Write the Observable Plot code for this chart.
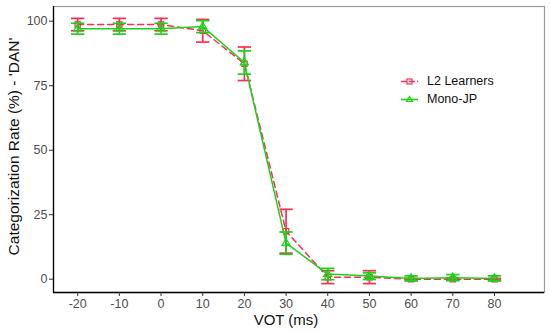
<!DOCTYPE html>
<html>
<head>
<meta charset="utf-8">
<script src="https://cdn.jsdelivr.net/npm/d3@7"></script>
<script src="https://cdn.jsdelivr.net/npm/@observablehq/plot@0.6"></script>
<style>
  body { margin: 0; background: #fff; }
  #wrap { position: relative; width: 550px; height: 333px; font-family: "Liberation Sans", Arial, sans-serif; }
  .leg { position: absolute; left: 400px; font-size: 12.5px; color: #111; }
  .leg .row { position: relative; height: 18px; display: flex; align-items: center; }
  .leg svg { margin-right: 8px; }
</style>
</head>
<body>
<div id="wrap"></div>
<script>
const vot = [-20, -10, 0, 10, 20, 30, 40, 50, 60, 70, 80];
const seriesNames = ["L2 Learners", "Mono-JP"];
const l2Mean = [98.7, 98.7, 98.7, 96.3, 83.5, 18.6, 0.8, 0.8, 0, 0, 0];
const l2Err  = [2.4, 2.4, 2.4, 4.4, 6.5, 8.5, 2.5, 2.5, 0.3, 0.3, 0.3];
const monoMean = [97.1, 97.1, 97.1, 97.9, 84, 14, 2, 1.2, 0.3, 0.6, 0.3];
const monoErr  = [2.1, 2.1, 2.1, 2.3, 4.5, 4.3, 2.2, 1.3, 1, 1.2, 1];
const xTicks = [-20, -10, 0, 10, 20, 30, 40, 50, 60, 70, 80];
const yTicks = [0, 25, 50, 75, 100];
const colors = ["#ff2d52", "#18d418"];

const l2 = vot.map((x, i) => ({x, y: l2Mean[i], lo: l2Mean[i] - l2Err[i], hi: l2Mean[i] + l2Err[i]}));
const mono = vot.map((x, i) => ({x, y: monoMean[i], lo: monoMean[i] - monoErr[i], hi: monoMean[i] + monoErr[i]}));
const capHalf = 1.6;
const xDom = [-25.8, 92];
const yDom = [-5.15, 105.7];

function errMarks(data, color) {
  return [
    Plot.ruleX(data, {x: "x", y1: "lo", y2: "hi", stroke: color, strokeWidth: 1.7}),
    Plot.link(data, {x1: d => d.x - capHalf, x2: d => d.x + capHalf, y1: "lo", y2: "lo", stroke: color, strokeWidth: 1.7}),
    Plot.link(data, {x1: d => d.x - capHalf, x2: d => d.x + capHalf, y1: "hi", y2: "hi", stroke: color, strokeWidth: 1.7})
  ];
}

const chart = Plot.plot({
  width: 550,
  height: 333,
  marginLeft: 53,
  marginRight: 6,
  marginTop: 6,
  marginBottom: 41,
  style: {fontFamily: "'Liberation Sans', Arial, sans-serif", background: "#fff"},
  x: {domain: xDom, ticks: xTicks},
  y: {domain: yDom, ticks: yTicks},
  marks: [
    Plot.frame({stroke: "#9a9a9a", strokeWidth: 1.2}),
    Plot.ruleX([xDom[0]], {stroke: "#000", strokeWidth: 1.3}),
    Plot.ruleY([yDom[0]], {stroke: "#000", strokeWidth: 1.3}),
    Plot.axisX({ticks: xTicks, tickSize: 4, tickPadding: 3, fontSize: 12.5, color: "#4d4d4d", stroke: "#333", label: null, tickFormat: d => String(d)}),
    Plot.axisY({ticks: yTicks, tickSize: 4, tickPadding: 2, fontSize: 12.5, color: "#4d4d4d", stroke: "#333", label: null}),
    ...errMarks(l2, colors[0]),
    Plot.line(l2, {x: "x", y: "y", stroke: colors[0], strokeWidth: 1.5, strokeDasharray: "6,4"}),
    Plot.dot(l2, {x: "x", y: "y", symbol: "square", r: 3, stroke: colors[0], fill: "none", strokeWidth: 1.2}),
    ...errMarks(mono, colors[1]),
    Plot.line(mono, {x: "x", y: "y", stroke: colors[1], strokeWidth: 1.5}),
    Plot.dot(mono, {x: "x", y: "y", symbol: "triangle", r: 3, stroke: colors[1], fill: "none", strokeWidth: 1.2}),
    Plot.text(["Categorization Rate (%) - 'DAN'"], {frameAnchor: "left", textAnchor: "middle", lineAnchor: "middle", rotate: -90, dx: -39, dy: -3, fontSize: 15.5, fill: "#111"}),
    Plot.text(["VOT (ms)"], {frameAnchor: "bottom", textAnchor: "middle", lineAnchor: "middle", dy: 28, dx: -13, fontSize: 15, fill: "#111"})
  ]
});
const wrap = document.getElementById("wrap");
wrap.appendChild(chart);

// legend (inside panel, as in reference)
const leg = document.createElement("div");
leg.className = "leg";
leg.style.top = "72px";
seriesNames.forEach((name, i) => {
  const row = document.createElement("div");
  row.className = "row";
  const c = colors[i];
  const sym = i === 0
    ? `<rect x="7" y="3" width="5" height="5" fill="none" stroke="${c}" stroke-width="1.2"/>`
    : `<path d="M9.5,2.5 L12.5,7.5 L6.5,7.5 Z" fill="none" stroke="${c}" stroke-width="1.2"/>`;
  row.innerHTML = `<svg width="19" height="11"><line x1="1" x2="18" y1="5.5" y2="5.5" stroke="${c}" stroke-width="1.6" ${i === 0 ? 'stroke-dasharray="6,2"' : ''}/>${sym}</svg><span>${name}</span>`;
  leg.appendChild(row);
});
wrap.appendChild(leg);
</script>
</body>
</html>
